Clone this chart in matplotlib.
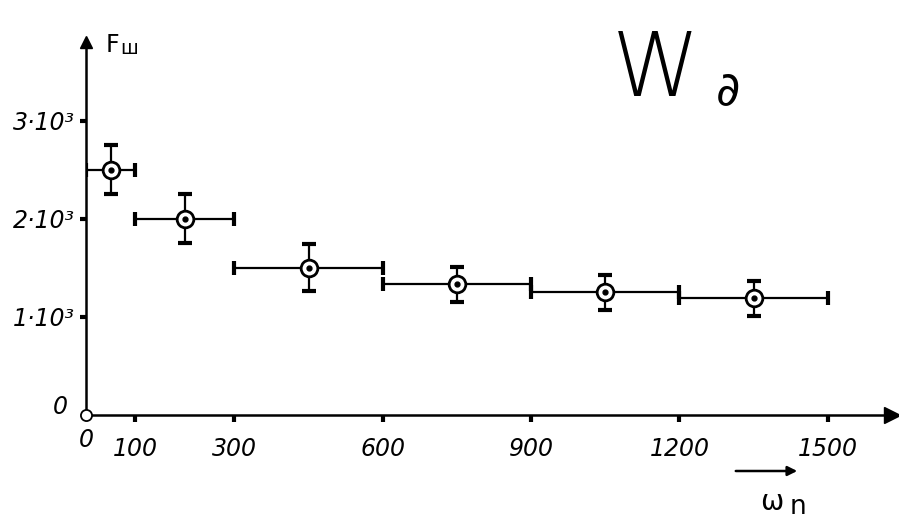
import numpy as np
import matplotlib
matplotlib.use("Agg")
import matplotlib.pyplot as plt

# data
omega = [50, 200, 450, 750, 1050, 1350]          # bin centres
omega_half = [50, 100, 150, 150, 150, 150]       # half bin widths
fw = [2500, 2000, 1500, 1330, 1250, 1190]
fw_err = [250, 250, 240, 180, 180, 180]

xticks = [100, 300, 600, 900, 1200, 1500]
xlabels = ['100', '300', '600', '900', '1200', '1500']
yticks = [1000, 2000, 3000]
ylabels = ['1·10³', '2·10³', '3·10³']

W, H = 899, 532
fig = plt.figure(figsize=(W / 100, H / 100), dpi=100)
ax = fig.add_axes([86 / W, 117 / H, 806 / W, 373 / H])
ax.set_xlim(0, 1630)
ax.set_ylim(0, 3800)

for s in ['top', 'right']:
    ax.spines[s].set_visible(False)
for s in ['left', 'bottom']:
    ax.spines[s].set_linewidth(1.8)

lab_font = dict(family='DejaVu Sans', style='italic', size=17)
ax.set_xticks(xticks)
ax.set_xticklabels(xlabels, **lab_font)
ax.set_yticks(yticks)
ax.set_yticklabels(ylabels, **lab_font)
ax.tick_params(axis='x', direction='out', length=5, width=3, pad=11)
ax.tick_params(axis='y', direction='out', length=4, width=3, pad=4)

# arrow heads on the axes
ax.plot(1, 0, marker='>', ms=12, color='k', transform=ax.transAxes, clip_on=False)
ax.plot(0, 1, marker='^', ms=9, color='k', transform=ax.transAxes, clip_on=False)
# little circle at the origin
ax.plot(0, 0, marker='o', ms=8, mfc='white', mec='k', mew=1.3, clip_on=False, zorder=5)

ax.errorbar(omega, fw, xerr=omega_half, yerr=fw_err, fmt='none', ecolor='k',
            elinewidth=1.6, capsize=5, capthick=3)
ax.plot(omega, fw, 'o', ms=12, mfc='white', mec='k', mew=2, zorder=4)
ax.plot(omega, fw, 'o', ms=3.5, color='k', zorder=5)

# zero labels
fig.text(60 / W, 1 - 407 / H, '0', ha='center', va='center', **lab_font)
fig.text(86 / W, 1 - 440 / H, '0', ha='center', va='center', **lab_font)

# axis names
fig.text(106 / W, 1 - 52 / H, 'F', ha='left', va='baseline', family='DejaVu Sans', size=17)
fig.text(120 / W, 1 - 54 / H, 'ш', ha='left', va='baseline', family='DejaVu Sans', size=14)
fig.text(760 / W, 1 - 510 / H, 'ω', ha='left', va='baseline', family='DejaVu Sans', size=20)
fig.text(790 / W, 1 - 514 / H, 'n', ha='left', va='baseline', family='DejaVu Sans', size=19)
fig.add_artist(matplotlib.patches.FancyArrowPatch(
    (733 / W, 1 - 471 / H), (800 / W, 1 - 471 / H), transform=fig.transFigure,
    arrowstyle='-|>', mutation_scale=14, lw=1.8, color='k'))

# big W∂ mark
fig.text(612 / W, 1 - 96 / H, 'W', ha='left', va='baseline', family='DejaVu Sans',
         weight='light', size=64)
fig.text(716 / W, 1 - 104 / H, '∂', ha='left', va='baseline',
         family=['DejaVu Sans', 'Noto Sans'], size=34)

fig.savefig('out.png', dpi=100)
